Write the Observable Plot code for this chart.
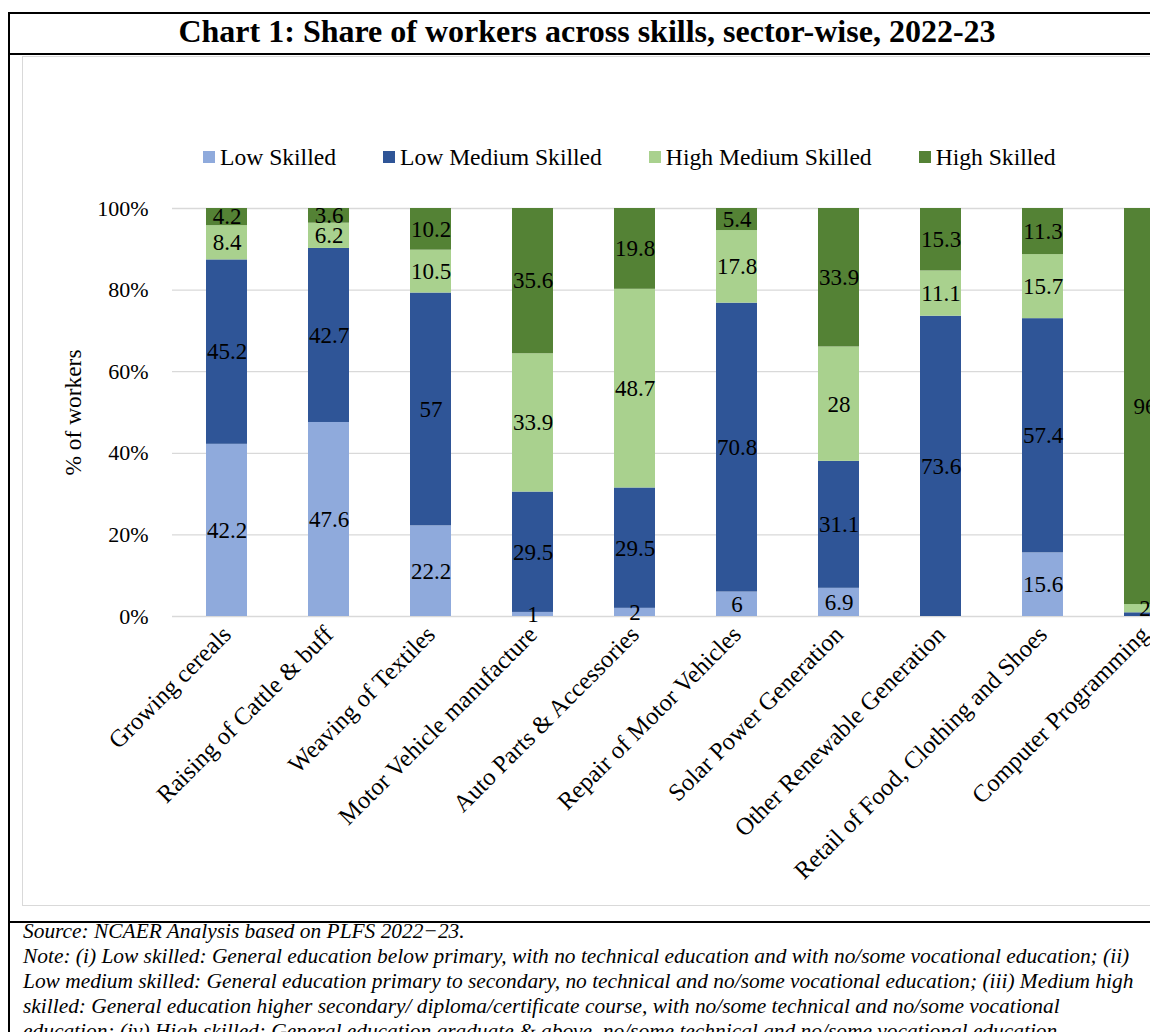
<!DOCTYPE html>
<html><head><meta charset="utf-8">
<script src="https://cdn.jsdelivr.net/npm/d3@7"></script>
<script src="https://cdn.jsdelivr.net/npm/@observablehq/plot@0.6"></script>
<style>
html,body{margin:0;padding:0;overflow:hidden;background:#fff;}
#wrap{position:relative;width:1300px;height:1032px;font-family:"Liberation Serif","Times New Roman",serif;color:#000;overflow:hidden;}
.bl{position:absolute;background:#000;}
#title{position:absolute;left:8px;width:1158px;top:11px;height:41px;line-height:41px;text-align:center;font-weight:bold;font-size:32px;}
#inner{position:absolute;left:22px;top:56px;width:1260px;height:850px;border:1.5px solid #d9d9d9;box-sizing:border-box;}
#legend{position:absolute;top:144px;left:203px;height:26px;font-size:23.6px;display:flex;gap:47px;align-items:center;}
.item{display:flex;align-items:center;white-space:nowrap;}
.sw{display:inline-block;width:12px;height:12px;margin-right:5px;}
#chart{position:absolute;left:0;top:0;}
#notes{position:absolute;left:23px;top:919px;font-style:italic;font-size:21.4px;line-height:25px;white-space:nowrap;}
</style></head>
<body>
<div id="wrap">
  <div class="bl" style="left:8px;top:12px;width:2px;height:1100px"></div>
  <div class="bl" style="left:8px;top:12px;width:1158px;height:2px"></div>
  <div class="bl" style="left:8px;top:53px;width:1300px;height:2px"></div>
  <div class="bl" style="left:8px;top:921px;width:1300px;height:2px"></div>
  <div id="title">Chart 1: Share of workers across skills, sector-wise, 2022-23</div>
  <div id="inner"></div>
  <div id="legend"></div>
  <div id="chart"></div>
  <div id="notes"></div>
</div>
<script>
const sectors = ["Growing cereals","Raising of Cattle & buff","Weaving of Textiles","Motor Vehicle manufacture","Auto Parts & Accessories","Repair of Motor Vehicles","Solar Power Generation","Other Renewable Generation","Retail of Food, Clothing and Shoes","Computer Programming"];
const skills = ["Low Skilled","Low Medium Skilled","High Medium Skilled","High Skilled"];
const colors = ["#8faadc","#2f5597","#a9d18e","#548235"];
const lowSkilled       = [42.2, 47.6, 22.2, 1,    2,    6,    6.9,  0,    15.6, 0];
const lowMediumSkilled = [45.2, 42.7, 57,   29.5, 29.5, 70.8, 31.1, 73.6, 57.4, 0.9];
const highMediumSkilled= [8.4,  6.2,  10.5, 33.9, 48.7, 17.8, 28,   11.1, 15.7, 2];
const highSkilled      = [4.2,  3.6,  10.2, 35.6, 19.8, 5.4,  33.9, 15.3, 11.3, 96];
const yTicks = [0, 0.2, 0.4, 0.6, 0.8, 1];
const yTitle = "% of workers";
const noteLines = [
  "Source: NCAER Analysis based on PLFS 2022\u221223.",
  "Note: (i) Low skilled: General education below primary, with no technical education and with no/some vocational education; (ii)",
  "Low medium skilled: General education primary to secondary, no technical and no/some vocational education; (iii) Medium high",
  "skilled: General education higher secondary/ diploma/certificate course, with no/some technical and no/some vocational",
  "education; (iv) High skilled: General education graduate & above, no/some technical and no/some vocational education"
];

const series = [lowSkilled, lowMediumSkilled, highMediumSkilled, highSkilled];
const data = [];
skills.forEach((s, si) => sectors.forEach((sec, i) => data.push({sector: sec, skill: s, value: series[si][i]})));

const font = "Liberation Serif, Times New Roman, serif";
const plot = Plot.plot({
  width: 1230, height: 900,
  marginTop: 208, marginBottom: 284, marginLeft: 172, marginRight: 32,
  style: {fontFamily: font, background: "transparent", color: "#000"},
  x: {domain: sectors, paddingInner: 0.6, paddingOuter: 0.3},
  y: {domain: [0, 1]},
  color: {domain: skills, range: colors},
  marks: [
    Plot.gridY(yTicks, {stroke: "#d9d9d9", strokeOpacity: 1, strokeWidth: 1.3}),
    Plot.barY(data, Plot.stackY({x: "sector", y: "value", z: "skill", fill: "skill", offset: "normalize", order: skills})),
    Plot.text(data, Plot.stackY({x: "sector", y: "value", z: "skill", text: d => d.value >= 1 ? String(d.value) : "", offset: "normalize", order: skills, fill: "#000", fontSize: 23})),
    Plot.axisY({ticks: yTicks, tickFormat: d3.format(".0%"), tickSize: 0, tickPadding: 24, fontSize: 22, label: null}),
    Plot.text([yTitle], {frameAnchor: "left", textAnchor: "middle", dx: -99, rotate: -90, fontSize: 23.4, fill: "#000"}),
    Plot.axisX({tickRotate: -45, tickSize: 0, tickPadding: 14, fontSize: 24.5, label: null})
  ]
});
document.getElementById("chart").appendChild(plot);

const legend = document.getElementById("legend");
skills.forEach((s, i) => {
  const it = document.createElement("div");
  it.className = "item";
  it.innerHTML = `<span class="sw" style="background:${colors[i]}"></span><span>${s}</span>`;
  legend.appendChild(it);
});
document.getElementById("notes").innerHTML = noteLines.map(l => `<div>${l.replace(/&/g,"&amp;")}</div>`).join("");
</script>
</body></html>
